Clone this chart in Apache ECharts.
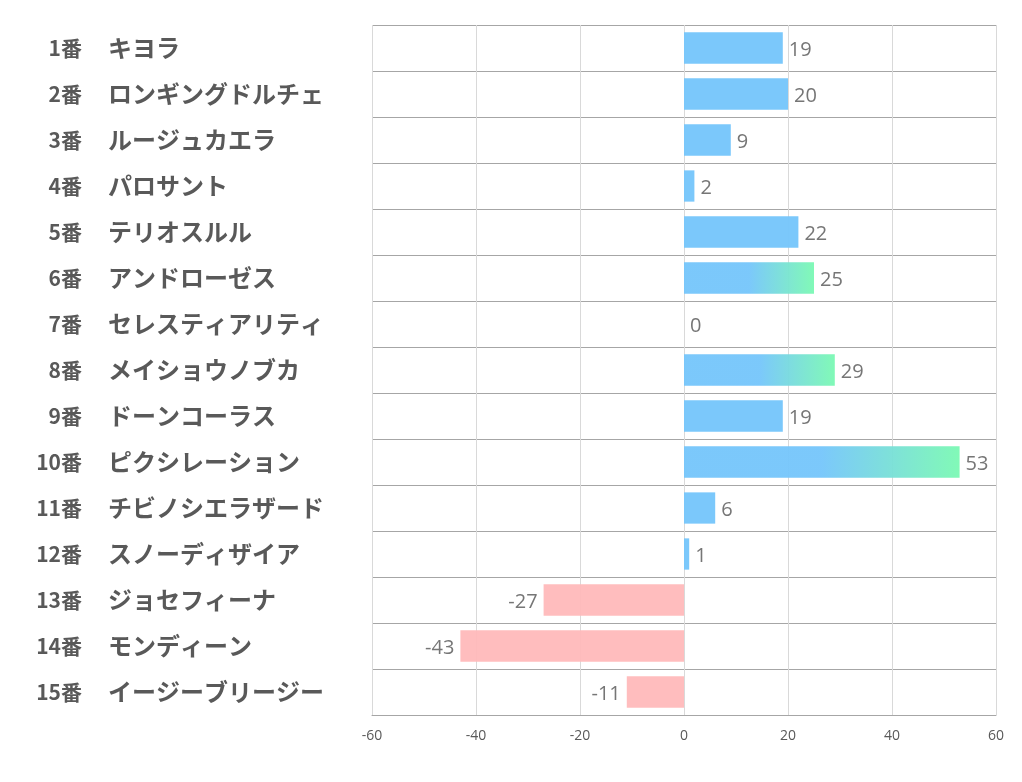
<!DOCTYPE html>
<html><head><meta charset="utf-8">
<script src="https://cdn.jsdelivr.net/npm/echarts@6/dist/echarts.min.js"></script>
<style>html,body{margin:0;padding:0;background:#fff}#c{width:1022px;height:782px}</style>
</head><body><div id="c"></div>
<script>
const numbers = ['1番','2番','3番','4番','5番','6番','7番','8番','9番','10番','11番','12番','13番','14番','15番'];
const names = ['キヨラ','ロンギングドルチェ','ルージュカエラ','パロサント','テリオスルル','アンドローゼス','セレスティアリティ','メイショウノブカ','ドーンコーラス','ピクシレーション','チビノシエラザード','スノーディザイア','ジョセフィーナ','モンディーン','イージーブリージー'];
const values = [19,20,9,2,22,25,0,29,19,53,6,1,-27,-43,-11];
const xTicks = [-60,-40,-20,0,20,40,60];

const BLUE = 'rgba(118,198,251,0.96)';
const GREEN = 'rgba(124,249,180,0.96)';
const PINK = 'rgba(255,185,187,0.95)';

const data = values.map(v=>{
  let color;
  if (v < 0) color = PINK;
  else if (v >= 25) color = new echarts.graphic.LinearGradient(0,0,1,0,[{offset:0,color:BLUE},{offset:0.5,color:BLUE},{offset:1,color:GREEN}]);
  else color = BLUE;
  return {value:v, itemStyle:{color}, label:{position: v<0?'left':'right'}};
});

const JP = '"Noto Sans CJK JP", sans-serif';
const chart = echarts.init(document.getElementById('c'));
chart.setOption({
  animation:false,
  grid:{left:372,right:26,top:25,bottom:67,containLabel:false},
  xAxis:{type:'value',min:xTicks[0],max:xTicks[xTicks.length-1],interval:20,
    axisLine:{show:true,onZero:false,lineStyle:{color:'#a6a6a6',width:1}},
    axisTick:{show:false},
    axisLabel:{color:'#595959',fontSize:14,fontFamily:'"Open Sans", "Noto Sans", sans-serif',margin:14},
    splitLine:{show:true,lineStyle:{color:'#d9d9d9',width:1}}},
  yAxis:[
    {type:'category',inverse:true,data:numbers,position:'left',
      axisLine:{show:false},axisTick:{show:false},
      splitLine:{show:true,lineStyle:{color:'#a6a6a6',width:1}},
      axisLabel:{align:'right',margin:290,fontSize:21,fontWeight:'bold',color:'#595959',fontFamily:JP}},
    {type:'category',inverse:true,data:names,position:'left',offset:0,
      axisLine:{show:false},axisTick:{show:false},splitLine:{show:false},
      axisLabel:{align:'left',margin:264,fontSize:24,fontWeight:'bold',color:'#595959',fontFamily:JP}}
  ],
  series:[{type:'bar',yAxisIndex:0,data:data,barCategoryGap:'32%',
    label:{show:true,color:'#767676',fontSize:20,distance:6,offset:[0,2],fontFamily:'"Open Sans", "Noto Sans", sans-serif'}}]
});
</script></body></html>
